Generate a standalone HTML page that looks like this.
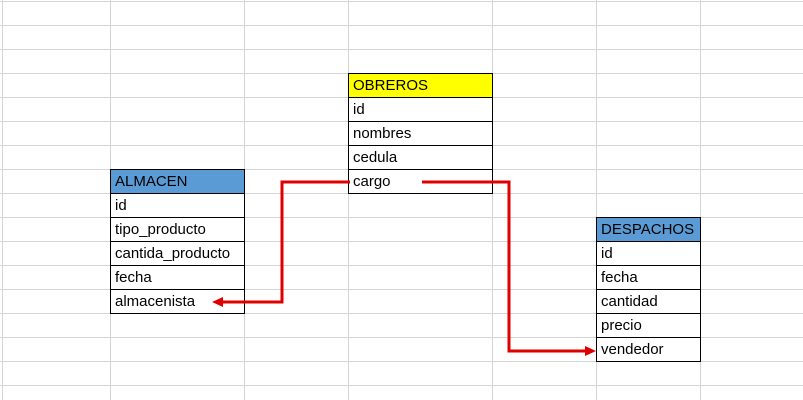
<!DOCTYPE html>
<html><head><style>
body{margin:0;width:803px;height:400px;overflow:hidden;background:#fff;position:relative;font-family:"Liberation Sans",sans-serif;}
.grid{position:absolute;left:0;top:0}
.t{position:absolute;font-size:15px;color:#000}
.t div{box-sizing:border-box;height:25px;border:1px solid #000;margin-top:-1px;padding:3px 0 0 4px;background:#fff;white-space:nowrap;overflow:hidden}
</style></head><body>
<svg class="grid" width="803" height="400">
<g stroke="#d4d4d4" stroke-width="1">
<line x1="2.5" y1="0" x2="2.5" y2="400"/><line x1="110.5" y1="0" x2="110.5" y2="400"/><line x1="244.5" y1="0" x2="244.5" y2="400"/><line x1="348.5" y1="0" x2="348.5" y2="400"/><line x1="492.5" y1="0" x2="492.5" y2="400"/><line x1="596.5" y1="0" x2="596.5" y2="400"/><line x1="700.5" y1="0" x2="700.5" y2="400"/>
<line x1="0" y1="1.5" x2="803" y2="1.5"/><line x1="0" y1="25.5" x2="803" y2="25.5"/><line x1="0" y1="49.5" x2="803" y2="49.5"/><line x1="0" y1="73.5" x2="803" y2="73.5"/><line x1="0" y1="97.5" x2="803" y2="97.5"/><line x1="0" y1="121.5" x2="803" y2="121.5"/><line x1="0" y1="145.5" x2="803" y2="145.5"/><line x1="0" y1="169.5" x2="803" y2="169.5"/><line x1="0" y1="193.5" x2="803" y2="193.5"/><line x1="0" y1="217.5" x2="803" y2="217.5"/><line x1="0" y1="241.5" x2="803" y2="241.5"/><line x1="0" y1="265.5" x2="803" y2="265.5"/><line x1="0" y1="289.5" x2="803" y2="289.5"/><line x1="0" y1="313.5" x2="803" y2="313.5"/><line x1="0" y1="337.5" x2="803" y2="337.5"/><line x1="0" y1="361.5" x2="803" y2="361.5"/><line x1="0" y1="385.5" x2="803" y2="385.5"/>
</g></svg>
<div class="t" style="left:348px;top:74px;width:145px"><div style="background:#ffff00">OBREROS</div><div>id</div><div>nombres</div><div>cedula</div><div>cargo</div></div>
<div class="t" style="left:110px;top:170px;width:135px"><div style="background:#5b9bd5">ALMACEN</div><div>id</div><div>tipo_producto</div><div>cantida_producto</div><div>fecha</div><div>almacenista</div></div>
<div class="t" style="left:596px;top:218px;width:105px"><div style="background:#5b9bd5">DESPACHOS</div><div>id</div><div>fecha</div><div>cantidad</div><div>precio</div><div>vendedor</div></div>
<svg class="grid" width="803" height="400">
<g stroke="#e00000" stroke-width="3" fill="none">
<polyline points="350,182 282,182 282,302 222,302"/>
<polyline points="422,182 509,182 509,351 586,351"/>
</g>
<polygon points="212,302 223,297 223,307" fill="#e00000"/>
<polygon points="596,351 585,346 585,356" fill="#e00000"/>
</svg>
</body></html>
